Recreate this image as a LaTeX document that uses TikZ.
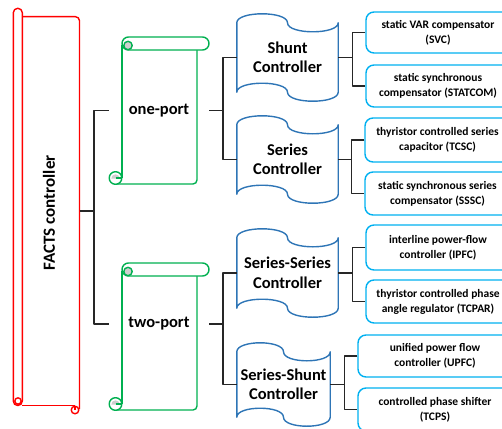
\documentclass[tikz,border=0pt]{standalone}
\usepackage{fontspec}
\setmainfont{Carlito}
\usetikzlibrary{calc}
\definecolor{factsred}{HTML}{FF0000}
\definecolor{portgreen}{HTML}{00B050}
\definecolor{tapeblue}{HTML}{2E75B6}
\definecolor{boxblue}{HTML}{00B0F0}
\definecolor{curlgray}{HTML}{CFCFCF}

% outline of a punched-tape shape fitted to a node
\newcommand\tapeoutline[1]{%
  \draw[tapeline] (#1.north west) .. controls +(0,-12) and +(0,-12) .. (#1.north)
    .. controls +(0,12) and +(0,12) .. (#1.north east) -- (#1.south east)
    .. controls +(0,12) and +(0,12) .. (#1.south)
    .. controls +(0,-12) and +(0,-12) .. (#1.south west) -- cycle;}

% vertical scroll, origin at the top left of its bounding box
\newcommand\portscroll[2]{%
  \begin{scope}[shift={(#1,#2)}, draw=portgreen, line width=1.4pt]
    \draw[rounded corners=4] (6.5,147) -- (88,147) -- (88,10);
    \draw (13,8) -- (13,141);
    \filldraw[fill=white, rounded corners=6.5] (13,0) rectangle (100,13);
    \filldraw[fill=curlgray] (19,8.5) circle (4.2);
    \filldraw[fill=white] (6.5,141) circle (6.3);
    \fill[curlgray] (2.3,141.5) arc[start angle=180, end angle=360, radius=4.2];
    \draw (6.5,141) -- (12.8,141);
  \end{scope}}

\begin{document}
\begin{tikzpicture}[x=1pt, y=-1pt, line join=round,
  conn/.style={draw=black!85, line width=1.4pt},
  tapeline/.style={draw=tapeblue, line width=1.4pt},
  bigtext/.style={font=\fontsize{16.5}{19.5}\selectfont\bfseries, align=center},
  tapebox/.style={bigtext, inner sep=0pt, minimum width=101, minimum height=69},
  portbox/.style={bigtext, inner sep=0pt, minimum width=100, minimum height=147},
  leafbox/.style={draw=boxblue, line width=1.4pt, rounded corners=8, inner sep=0pt,
    align=center, font=\fontsize{11.5}{15}\selectfont\bfseries},
]
\useasboundingbox (0,0) rectangle (502,428);

% ---- root scroll ----
\node[inner sep=0pt, minimum width=66.2, minimum height=406] (facts) at (46.4,211) {};
\begin{scope}[draw=factsred, line width=1.4pt]
  \draw[rounded corners=4] (22.3,16.7) -- (79.5,16.7) -- (79.5,409);
  \draw (22.3,405.7) -- (75,405.7);
  \filldraw[fill=white, rounded corners=4.4] (13.3,8.3) rectangle (22.3,405.5);
  \draw (18,401) circle (3.2);
  \filldraw[fill=white] (75,410) circle (3.8);
  \draw (75,410) -- (75,406);
\end{scope}
\node[rotate=90, font=\fontsize{17}{20}\selectfont\bfseries] (factslabel) at (49,213) {FACTS controller};

% ---- one-port / two-port ----
\portscroll{109}{37}
\node[portbox] (one) at (159,110.5) {\raisebox{-4pt}{one-port}};
\portscroll{109}{263}
\node[portbox, minimum height=122] (two) at (159,324) {\raisebox{-4pt}{two-port}};

% ---- controller types ----
\node[tapebox] (shunt) at (287.5,57.5) {Shunt\\Controller};
\node[tapebox] (series) at (287.5,159.5) {Series\\Controller};
\node[tapebox, minimum height=70] (serser) at (287.5,273) {Series-Series\\Controller};
\node[tapebox, minimum width=93, minimum height=65] (sersh) at (283.5,384.5) {Series-Shunt\\Controller};
\tapeoutline{shunt}
\tapeoutline{series}
\tapeoutline{serser}
\tapeoutline{sersh}

% ---- devices ----
\node[leafbox, minimum width=144, minimum height=41] (svc) at (438,32.5) {static VAR compensator\\(SVC)};
\node[leafbox, minimum width=144, minimum height=42] (statcom) at (438,86) {static synchronous\\compensator (STATCOM)};
\node[leafbox, minimum width=145, minimum height=44] (tcsc) at (437.5,140) {thyristor controlled series\\capacitor (TCSC)};
\node[leafbox, minimum width=145, minimum height=43] (sssc) at (437.5,193.5) {static synchronous series\\compensator (SSSC)};
\node[leafbox, minimum width=144, minimum height=45] (ipfc) at (438,247.5) {interline power-flow\\controller (IPFC)};
\node[leafbox, minimum width=144, minimum height=43] (tcpar) at (438,301.5) {thyristor controlled phase\\angle regulator (TCPAR)};
\node[leafbox, minimum width=154, minimum height=42] (upfc) at (435,356) {unified power flow\\controller (UPFC)};
\node[leafbox, minimum width=154, minimum height=43] (tcps) at (435,409.5) {controlled phase shifter\\(TCPS)};

% ---- connectors ----
\draw[conn] (facts.east) -- ++(14.5,0);
\draw[conn] (one.west) -- ++(-15,0) |- (two.west);

\draw[conn] (one.east) -- ++(14,0);
\draw[conn] (shunt.west) -- ++(-14,0) |- (series.west);
\draw[conn] (two.east) -- ++(14,0);
\draw[conn] (serser.west) -- ++(-14,0) |- (sersh.west);

\draw[conn] (shunt.east) -- ++(15,0);
\draw[conn] (svc.west) -- ++(-13,0) |- (statcom.west);
\draw[conn] (series.east) -- ++(14,0);
\draw[conn] (tcsc.west) -- ++(-13,0) |- (sssc.west);
\draw[conn] (serser.east) -- ++(15,0);
\draw[conn] (ipfc.west) -- ++(-13,0) |- (tcpar.west);
\draw[conn] (sersh.east) -- ++(15,0);
\draw[conn] (upfc.west) -- ++(-13,0) |- (tcps.west);
\end{tikzpicture}
\end{document}
